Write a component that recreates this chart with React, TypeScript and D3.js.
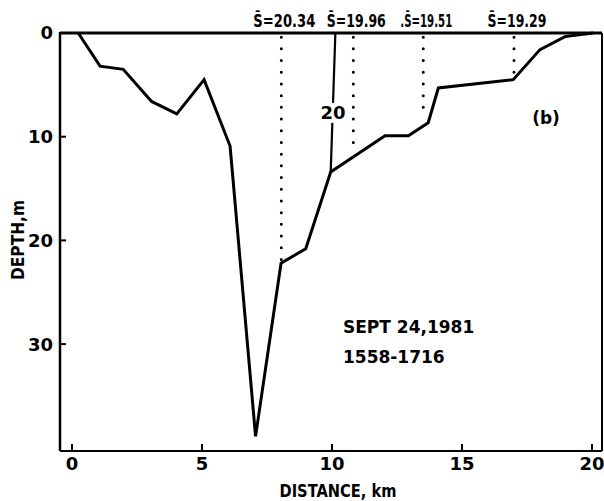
import React from "react";
import * as d3 from "d3";

const distance = [0.24, 1.08, 1.97, 3.06, 4.03, 5.08, 6.08, 7.06, 8.04, 8.99, 9.95, 12.04, 12.94, 13.7, 14.09, 16.97, 18.0, 18.96, 20.05];
const depth = [0, 3.2, 3.5, 6.6, 7.8, 4.5, 10.9, 38.9, 22.2, 20.8, 13.4, 9.9, 9.9, 8.65, 5.3, 4.5, 1.6, 0.35, 0];

const isoDist = [10.13, 9.95];
const isoDepth = [0, 13.4];
const isoLabel = "20";

const stationDist = [8.05, 10.82, 13.51, 17.0];
const stationEnd = [22.0, 11.3, 7.6, 3.8];
const stationLabels = ["S\u0304=20.34", "S\u0304=19.96", ".S\u0304=19.51", "S\u0304=19.29"];
const stationLabelWidth = [62, 59, 52, 59];

const xTicks = [0, 5, 10, 15, 20];
const yTicks = [0, 10, 20, 30];

const FONT = "'DejaVu Sans', 'Liberation Sans', sans-serif";

export default function App() {
  const W = 604, H = 501;
  const left = 60, right = 602, top = 33, bottom = 451;
  const x = d3.scaleLinear().domain([0, 20]).range([72, 592]);
  const y = d3.scaleLinear().domain([0, 10]).range([top, top + 103.7]);

  const pts: [number, number][] = distance.map((d, i) => [d, depth[i]]);
  const line = d3.line<[number, number]>().x(d => x(d[0])).y(d => y(d[1]));
  const isoPts: [number, number][] = isoDist.map((d, i) => [d, isoDepth[i]]);
  const isoMid: [number, number] = [(isoDist[0] + isoDist[1]) / 2, 7.7];

  return (
    <svg width={W} height={H} style={{ position: "absolute", left: 0, top: 0, background: "#fff" }} fontFamily={FONT}>
      <rect x={0} y={0} width={W} height={H} fill="#fff" />
      {/* frame */}
      <line x1={left} y1={top} x2={right} y2={top} stroke="#000" strokeWidth={3} />
      <line x1={left} y1={top - 1} x2={left} y2={bottom} stroke="#000" strokeWidth={2.5} />
      <line x1={left} y1={bottom} x2={right} y2={bottom} stroke="#000" strokeWidth={2} />
      <line x1={right} y1={top} x2={right} y2={bottom} stroke="#000" strokeWidth={2} />
      {/* y ticks */}
      {yTicks.map(t => (
        <g key={"y" + t}>
          {t > 0 && <line x1={left} x2={left + 6} y1={y(t)} y2={y(t)} stroke="#000" strokeWidth={2} />}
          <text x={53} y={y(t)} dy="0.36em" textAnchor="end" fontSize={18} fontWeight="bold">{t}</text>
        </g>
      ))}
      {/* x ticks */}
      {xTicks.map(t => (
        <g key={"x" + t}>
          <line x1={x(t)} x2={x(t)} y1={bottom} y2={bottom - 7} stroke="#000" strokeWidth={2} />
          <text x={x(t)} y={470} textAnchor="middle" fontSize={18} fontWeight="bold">{t}</text>
        </g>
      ))}
      <text x={338} y={497} textAnchor="middle" fontSize={17} fontWeight="bold" textLength={117} lengthAdjust="spacingAndGlyphs">DISTANCE, km</text>
      <text transform="translate(24,240) rotate(-90)" textAnchor="middle" fontSize={17} fontWeight="bold" textLength={80} lengthAdjust="spacingAndGlyphs">DEPTH,m</text>
      {/* stations */}
      {stationDist.map((s, i) => (
        <g key={"s" + i}>
          <line x1={x(s)} x2={x(s)} y1={y(0.4)} y2={y(stationEnd[i])} stroke="#000" strokeWidth={3} strokeLinecap="round" strokeDasharray="0 11.7" />
          <text x={x(s) + 3} y={27} textAnchor="middle" fontSize={17} fontWeight="bold" textLength={stationLabelWidth[i]} lengthAdjust="spacingAndGlyphs">{stationLabels[i]}</text>
        </g>
      ))}
      {/* bottom profile */}
      <path d={line(pts) || ""} fill="none" stroke="#000" strokeWidth={3} strokeLinejoin="miter" />
      {/* isohaline */}
      <path d={line(isoPts) || ""} fill="none" stroke="#000" strokeWidth={2.2} />
      <rect x={x(isoMid[0]) - 11} y={y(isoMid[1]) - 10} width={22} height={20} fill="#fff" />
      <text x={x(isoMid[0])} y={y(isoMid[1])} dy="0.36em" textAnchor="middle" fontSize={18} fontWeight="bold">{isoLabel}</text>
      <text x={546} y={118} dy="0.36em" textAnchor="middle" fontSize={17} fontWeight="bold">(b)</text>
      <text x={343} y={333} fontSize={17} fontWeight="bold">SEPT 24,1981</text>
      <text x={343} y={363} fontSize={17} fontWeight="bold">1558-1716</text>
    </svg>
  );
}
